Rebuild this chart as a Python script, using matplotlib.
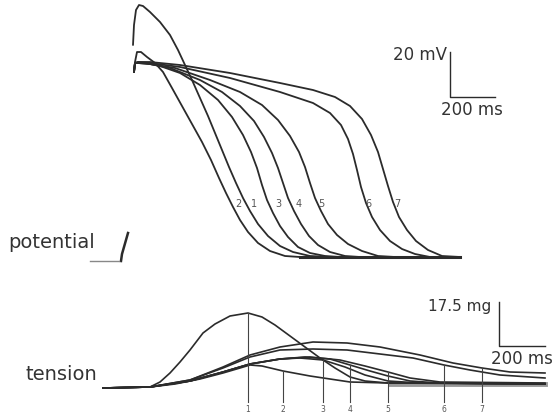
import matplotlib
matplotlib.use("Agg")
import matplotlib.pyplot as plt

# all coordinates in image pixels (x right, y down)

# membrane potential traces, numbered as in the figure
pot_x = {
    1: [133, 134, 136, 139, 143, 150, 160, 170, 178, 185, 192, 200, 208, 215, 222, 229, 236, 243, 250, 258, 268, 280, 293, 310, 330, 460],
    2: [134, 135, 137, 141, 147, 155, 163, 172, 182, 192, 202, 211, 219, 226, 233, 240, 248, 258, 270, 285, 300, 460],
    3: [134, 135, 138, 145, 160, 180, 200, 218, 232, 243, 251, 257, 262, 267, 273, 280, 288, 298, 310, 325, 340, 460],
    4: [134, 135, 138, 150, 170, 200, 222, 240, 254, 264, 272, 278, 283, 288, 294, 301, 309, 318, 330, 345, 360, 460],
    5: [134, 135, 138, 150, 175, 210, 240, 262, 278, 290, 299, 305, 310, 315, 321, 328, 337, 348, 362, 378, 395, 460],
    6: [134, 135, 138, 150, 180, 230, 280, 313, 330, 341, 348, 353, 357, 361, 366, 372, 380, 390, 402, 415, 430, 460],
    7: [134, 135, 138, 150, 180, 230, 280, 313, 335, 350, 362, 371, 378, 383, 388, 393, 399, 407, 416, 428, 442, 460],
}
pot_y = {
    1: [45, 25, 10, 5, 6, 12, 22, 35, 50, 65, 80, 98, 116, 133, 150, 167, 183, 198, 211, 224, 236, 246, 252, 256, 257, 257],
    2: [72, 62, 52, 52, 57, 63, 72, 88, 106, 124, 142, 160, 178, 193, 207, 220, 232, 243, 251, 256, 257, 257],
    3: [72, 63, 63, 63, 66, 73, 85, 100, 117, 135, 152, 168, 185, 200, 213, 226, 237, 247, 253, 256, 257, 257],
    4: [72, 63, 63, 64, 68, 80, 92, 106, 121, 137, 153, 168, 183, 198, 211, 224, 236, 245, 252, 256, 257, 257],
    5: [72, 63, 63, 64, 68, 80, 92, 105, 120, 136, 152, 167, 183, 198, 211, 224, 235, 244, 251, 256, 257, 257],
    6: [72, 63, 62, 63, 67, 78, 92, 103, 113, 125, 139, 154, 170, 187, 203, 217, 230, 241, 249, 254, 257, 257],
    7: [72, 63, 62, 62, 65, 73, 83, 90, 97, 106, 119, 135, 152, 169, 186, 202, 217, 230, 241, 250, 256, 257],
}
pot_label_x = {1: 254, 2: 238, 3: 278, 4: 299, 5: 321, 6: 368, 7: 397}
pot_label_y = 204

upstroke_x = [128, 126, 124, 122, 121]
upstroke_y = [233, 240, 247, 254, 261]
rest_x = [90, 119]
rest_y = [261, 261]

# tension traces
ten_x = {
    1: [103, 150, 160, 170, 180, 190, 203, 215, 230, 248, 262, 275, 290, 305, 320, 335, 350, 365, 388, 440, 545],
    2: [103, 150, 175, 200, 223, 240, 250, 262, 283, 310, 330, 350, 388, 545],
    3: [103, 150, 190, 223, 250, 280, 300, 323, 345, 365, 388, 420, 545],
    4: [103, 150, 190, 223, 250, 280, 305, 330, 350, 370, 388, 410, 440, 545],
    5: [103, 150, 190, 223, 250, 280, 310, 340, 365, 388, 410, 440, 545],
    6: [103, 150, 190, 223, 250, 280, 313, 347, 380, 413, 444, 470, 500, 545],
    7: [103, 150, 190, 223, 250, 280, 313, 347, 380, 420, 453, 482, 510, 545],
}
ten_y = {
    1: [388, 387, 382, 373, 362, 350, 333, 324, 316, 313, 317, 325, 336, 347, 358, 368, 377, 381, 383, 383, 384],
    2: [388, 387, 384, 379, 373, 368, 365, 366, 371, 376, 379, 382, 383, 384],
    3: [388, 387, 381, 372, 364, 359, 358, 360, 367, 375, 381, 383, 384],
    4: [388, 387, 381, 372, 364, 359, 357, 359, 365, 371, 376, 381, 383, 384],
    5: [388, 387, 381, 372, 364, 359, 357, 360, 366, 372, 378, 382, 383],
    6: [388, 387, 380, 368, 357, 350, 349, 350, 354, 358, 365, 370, 375, 378],
    7: [388, 387, 380, 367, 355, 347, 342, 343, 347, 355, 363, 368, 372, 373],
}
mark_x = [248, 283, 323, 350, 388, 444, 482]
mark_top = [313, 371, 360, 365, 372, 365, 368]
mark_labels = ["1", "2", "3", "4", "5", "6", "7"]

ink = "#2b2b2b"
fig = plt.figure(figsize=(5.54, 4.16), dpi=100)
ax = fig.add_axes([0, 0, 1, 1])
ax.set_xlim(0, 554)
ax.set_ylim(416, 0)
ax.axis("off")

for k in pot_x:
    ax.plot(pot_x[k], pot_y[k], color=ink, lw=1.3, solid_capstyle="round")
    ax.text(pot_label_x[k], pot_label_y, str(k), fontsize=7, color="#555555",
            ha="center", va="center")
ax.plot([300, 460], [257, 257], color=ink, lw=2.2)
ax.plot(upstroke_x, upstroke_y, color=ink, lw=1.8)
ax.plot(rest_x, rest_y, color="#888888", lw=1.0)

# bottom band where the late tension traces overlap
ax.plot([390, 545], [384, 384], color="#999999", lw=3.5, zorder=1)
for k in ten_x:
    ax.plot(ten_x[k], ten_y[k], color=ink, lw=1.2, zorder=2)
for x, top, lab in zip(mark_x, mark_top, mark_labels):
    ax.plot([x, x], [top, 402], color="#444444", lw=0.8)
    ax.text(x, 410, lab, fontsize=5.5, color="#555555", ha="center", va="center")

# scale bars
ax.plot([450, 450, 495], [52, 97, 97], color=ink, lw=1.0)
ax.text(447, 55, "20 mV", fontsize=12, color="#333333", ha="right", va="center")
ax.text(472, 110, "200 ms", fontsize=12, color="#333333", ha="center", va="center")

ax.plot([499, 499, 545], [302, 346, 346], color=ink, lw=1.0)
ax.text(491, 307, "17.5 mg", fontsize=11, color="#333333", ha="right", va="center")
ax.text(522, 359, "200 ms", fontsize=12, color="#333333", ha="center", va="center")

ax.text(8, 243, "potential", fontsize=14, color="#333333", ha="left", va="center")
ax.text(25, 374, "tension", fontsize=14, color="#333333", ha="left", va="center")

fig.savefig("out.png", dpi=100, facecolor="white")
